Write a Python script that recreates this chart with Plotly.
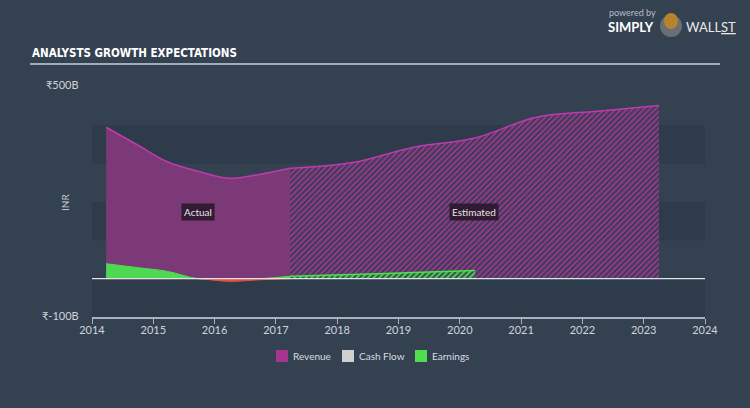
import plotly.graph_objects as go

# ---- data (INR billions) ----
rev_act_x = [2014.23, 2014.73, 2015.23, 2015.73, 2016.23, 2016.73, 2017.23]
rev_act_y = [395, 350, 305, 280, 262, 272, 288]
rev_est_x = [2017.23, 2018.25, 2019.25, 2020.25, 2021.25, 2022.25, 2023.25]
rev_est_y = [288, 303, 343, 367, 421, 437, 452]

earn_act_x = [2014.23, 2014.73, 2015.23, 2015.73, 2016.23, 2016.73, 2017.23]
earn_act_y = [39, 29, 19, 0, -7, -3, 6]
earn_est_x = [2017.23, 2018.25, 2019.25, 2020.25]
earn_est_y = [6, 11, 16, 21]

x_ticks = list(range(2014, 2025))
legend_names = ["Revenue", "Cash Flow", "Earnings"]
legend_colors = ["#a8348f", "#cfcfcf", "#4fde50"]

BG = "#344151"
BAND = "#2e3b4b"
FONT = "Lato, 'Noto Sans', 'DejaVu Sans', sans-serif"


def px(x):
    return (x - 92) / 613


def py(y):
    return (317 - y) / 230


fig = go.Figure()

# Revenue actual
fig.add_trace(go.Scatter(x=rev_act_x, y=rev_act_y, mode="lines", line=dict(color="#c03aac", width=1.5, shape="spline"),
                         fill="tozeroy", fillcolor="#7b3a77", showlegend=False, hoverinfo="skip"))
# Revenue estimated (hatched)
fig.add_trace(go.Scatter(x=rev_est_x, y=rev_est_y, mode="lines", line=dict(color="#c03aac", width=1.5, shape="spline"),
                         fill="tozeroy", fillcolor="#8a3a85",
                         fillpattern=dict(shape="/", bgcolor="#8e3a88", fgcolor="#2f3b4c", fgopacity=1, size=4, solidity=0.4),
                         showlegend=False, hoverinfo="skip"))
# Earnings actual positive / negative
pos = [max(v, 0) for v in earn_act_y]
neg = [min(v, 0) for v in earn_act_y]
fig.add_trace(go.Scatter(x=earn_act_x, y=pos, mode="lines", line=dict(color="#4fde50", width=1, shape="spline"),
                         fill="tozeroy", fillcolor="#4fd852", showlegend=False, hoverinfo="skip"))
fig.add_trace(go.Scatter(x=earn_act_x, y=neg, mode="lines", line=dict(color="#e8503f", width=1, shape="spline"),
                         fill="tozeroy", fillcolor="#e5503f", showlegend=False, hoverinfo="skip"))
# Earnings estimated (hatched)
fig.add_trace(go.Scatter(x=earn_est_x, y=earn_est_y, mode="lines", line=dict(color="#4fe050", width=1.5, shape="spline"),
                         fill="tozeroy", fillcolor="#4fd852",
                         fillpattern=dict(shape="/", bgcolor="#4fc852", fgcolor="#2f3b4c", fgopacity=1, size=4, solidity=0.4),
                         showlegend=False, hoverinfo="skip"))

shapes = []
for y0, y1 in [(-100, 0), (100, 200), (300, 400)]:
    shapes.append(dict(type="rect", xref="paper", x0=0, x1=1, yref="y", y0=y0, y1=y1,
                       fillcolor=BAND, line=dict(width=0), layer="below"))
shapes.append(dict(type="line", xref="paper", x0=0, x1=1, yref="y", y0=0, y1=0,
                   line=dict(color="#dfe3e8", width=1.2), layer="above"))
# title underline
shapes.append(dict(type="line", xref="paper", yref="paper",
                   x0=px(30), x1=px(720), y0=py(64), y1=py(64),
                   line=dict(color="#c9d0d8", width=1.3)))
# logo bull badge
shapes.append(dict(type="circle", xref="paper", yref="paper",
                   x0=px(660), x1=px(682), y0=py(37), y1=py(15),
                   fillcolor="#6b6f75", line=dict(width=0)))
shapes.append(dict(type="circle", xref="paper", yref="paper",
                   x0=px(664), x1=px(678), y0=py(29), y1=py(13),
                   fillcolor="#b7832f", line=dict(width=0)))

annotations = [
    dict(text="<b>ANALYSTS GROWTH EXPECTATIONS</b>", x=px(30), y=py(53), xref="paper", yref="paper",
         xanchor="left", yanchor="middle", showarrow=False,
         font=dict(family="'Liberation Sans Narrow', 'DejaVu Sans Condensed', Roboto, sans-serif", size=11.5, color="#ffffff")),
    dict(text="₹500B", x=px(81), y=py(84), xref="paper", yref="paper", xanchor="right", yanchor="middle",
         showarrow=False, font=dict(family=FONT, size=11, color="#d0d4da")),
    dict(text="₹-100B", x=px(81), y=py(315), xref="paper", yref="paper", xanchor="right", yanchor="middle",
         showarrow=False, font=dict(family=FONT, size=11, color="#d0d4da")),
    dict(text="INR", x=px(65), y=py(203), xref="paper", yref="paper", xanchor="center", yanchor="middle",
         textangle=-90, showarrow=False, font=dict(family=FONT, size=10, color="#c0c6ce")),
    dict(text="Actual", x=px(198), y=py(212), xref="paper", yref="paper", xanchor="center", yanchor="middle",
         showarrow=False, bgcolor="rgba(40,22,40,0.85)", borderpad=2,
         font=dict(family=FONT, size=10, color="#e6e6e6")),
    dict(text="Estimated", x=px(474), y=py(212), xref="paper", yref="paper", xanchor="center", yanchor="middle",
         showarrow=False, bgcolor="rgba(40,22,40,0.85)", borderpad=2,
         font=dict(family=FONT, size=10, color="#e6e6e6")),
    dict(text="powered by", x=px(607), y=py(12), xref="paper", yref="paper", xanchor="left", yanchor="middle",
         showarrow=False, font=dict(family=FONT, size=9, color="#b8bec6")),
    dict(text="<b>SIMPLY</b>", x=px(606), y=py(27), xref="paper", yref="paper", xanchor="left", yanchor="middle",
         showarrow=False, font=dict(family="Lato, sans-serif", size=13, color="#ffffff")),
    dict(text="WALL<u>ST</u>", x=px(684), y=py(27), xref="paper", yref="paper", xanchor="left", yanchor="middle",
         showarrow=False, font=dict(family="Lato, sans-serif", size=13, color="#e8e8e8")),
]

# manual legend
leg_swatch_x = [276, 342, 415]
for n, c, sx in zip(legend_names, legend_colors, leg_swatch_x):
    shapes.append(dict(type="rect", xref="paper", yref="paper",
                       x0=px(sx), x1=px(sx + 12), y0=py(362), y1=py(350),
                       fillcolor=c, line=dict(width=0)))
    annotations.append(dict(text=n, x=px(sx + 15), y=py(356), xref="paper", yref="paper",
                            xanchor="left", yanchor="middle", showarrow=False,
                            font=dict(family=FONT, size=10, color="#d8dce2")))

fig.update_layout(
    width=750, height=408,
    margin=dict(l=92, r=45, t=87, b=91),
    paper_bgcolor=BG, plot_bgcolor=BG,
    shapes=shapes, annotations=annotations,
    font=dict(family=FONT, color="#d0d4da", size=11),
    xaxis=dict(range=[2014, 2024], tickvals=x_ticks, ticktext=[str(t) for t in x_ticks],
               showgrid=False, zeroline=False, showline=True, linecolor="#a9b3bf", linewidth=1.5,
               ticks="outside", ticklen=5, tickcolor="#a9b3bf", tickwidth=1, ticklabelstandoff=-3,
               tickfont=dict(family=FONT, size=11, color="#d0d4da"), fixedrange=True),
    yaxis=dict(range=[-100, 500], showticklabels=False, showgrid=False, zeroline=False,
               showline=False, ticks="", fixedrange=True),
    showlegend=False,
)

fig.write_html("out.html")
